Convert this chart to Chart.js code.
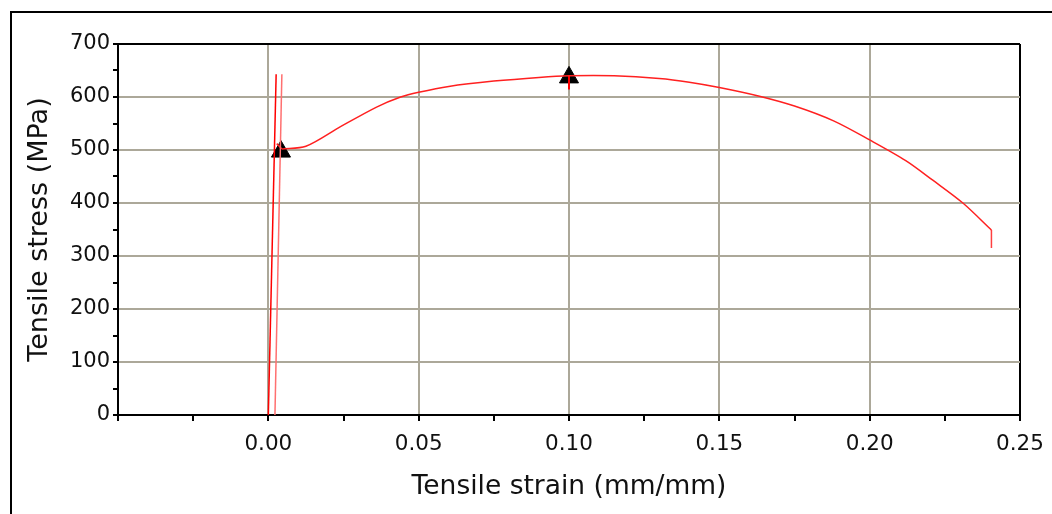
<!DOCTYPE html>
<html>
<head>
<meta charset="utf-8">
<title>Tensile test</title>
<script src="https://cdn.jsdelivr.net/npm/chart.js@4/dist/chart.umd.min.js"></script>
<style>
  html, body { margin: 0; padding: 0; background: #fff; }
  body { width: 1052px; height: 514px; position: relative; overflow: hidden; }
  #frame {
    position: absolute; left: 10px; top: 11px;
    width: 1100px; height: 600px;
    border: 2px solid #000;
  }
  #chart { position: absolute; left: 0; top: 0; }
</style>
</head>
<body>
<div id="frame"></div>
<canvas id="chart" width="1052" height="514"></canvas>
<script>
// Axis range and tick steps
const xMin = -0.05;
const xMax = 0.25;
const xStep = 0.025;
const yMin = 0;
const yMax = 700;
const yStep = 50;

// Elastic loading lines (two passes)
const elasticAStrain = [0, 0.0026];
const elasticAStress = [0, 643];
const elasticBStrain = [0.0022, 0.0045];
const elasticBStress = [0, 643];

// Little hook where the curve leaves the elastic line
const hookStrain = [0.0028, 0.0045];
const hookStress = [512, 502];

// Main stress-strain curve
const curveStrain = [0.0045, 0.0125, 0.024, 0.036, 0.044, 0.05, 0.06, 0.075, 0.09, 0.1,
  0.115, 0.13, 0.14, 0.15, 0.163, 0.175, 0.188, 0.2, 0.212, 0.221, 0.231, 0.2405];
const curveStress = [502, 507, 544, 581, 600, 609, 620, 630, 637, 640,
  640, 635, 628, 618, 602, 583, 555, 519, 480, 443, 400, 349];

// Fracture drop at the end
const fractureStrain = [0.2405, 0.2405];
const fractureStress = [349, 315];

// Small drop under the ultimate point
const dropStrain = [0.1, 0.1];
const dropStress = [640, 614];

// Markers: yield and ultimate strength
const markerStrain = [0.0042, 0.1];
const markerStress = [497, 637];

function toPoints(xs, ys) {
  return xs.map((x, i) => ({ x: x, y: ys[i] }));
}

function lineSet(xs, ys, color, width, tension) {
  return {
    data: toPoints(xs, ys),
    showLine: true,
    borderColor: color,
    borderWidth: width,
    pointRadius: 0,
    tension: tension || 0,
  };
}

// value helpers (ticks come in as floats)
function isMultiple(value, step) {
  const r = value / step;
  return Math.abs(r - Math.round(r)) < 1e-6;
}

function xGridColor(ctx) {
  const v = ctx.tick.value;
  if (Math.abs(v - xMax) < 1e-6) return "#000";
  if (v < -1e-6) return "rgba(0,0,0,0)";
  return isMultiple(v, 0.05) ? "#aca899" : "rgba(0,0,0,0)";
}

function yGridColor(ctx) {
  const v = ctx.tick.value;
  if (Math.abs(v - yMax) < 1e-6) return "#000";
  if (v < 1) return "rgba(0,0,0,0)";
  return isMultiple(v, 100) ? "#aca899" : "rgba(0,0,0,0)";
}

const ctx = document.getElementById("chart").getContext("2d");

new Chart(ctx, {
  type: "scatter",
  data: {
    datasets: [
      lineSet(elasticBStrain, elasticBStress, "#ff7070", 1.5),
      lineSet(elasticAStrain, elasticAStress, "#ff0000", 1.5),
      lineSet(hookStrain, hookStress, "#ff2020", 1.5),
      lineSet(curveStrain, curveStress, "#ff2020", 1.5, 0.3),
      lineSet(fractureStrain, fractureStress, "#ff4040", 1.5),
      lineSet(dropStrain, dropStress, "#ff0000", 2),
      {
        data: toPoints(markerStrain, markerStress),
        showLine: false,
        pointStyle: "triangle",
        pointRadius: 11,
        backgroundColor: "#000",
        borderColor: "#000",
        borderWidth: 1,
      },
    ],
  },
  options: {
    responsive: false,
    animation: false,
    devicePixelRatio: 1,
    layout: { padding: { top: 44, right: 32, left: 0, bottom: 0 } },
    plugins: {
      legend: { display: false },
      tooltip: { enabled: false },
    },
    scales: {
      x: {
        type: "linear",
        min: xMin,
        max: xMax,
        afterFit: function (scale) {
          scale.height = 99;
          scale.paddingLeft = 0;
          scale.paddingRight = 0;
        },
        ticks: {
          stepSize: xStep,
          autoSkip: false,
          maxRotation: 0,
          color: "#111",
          font: { family: "DejaVu Sans", size: 21.5 },
          padding: 11,
          callback: function (value) {
            if (value < -1e-6 || !isMultiple(value, 0.05)) return "";
            return Math.abs(Math.round(value * 100) / 100).toFixed(2);
          },
        },
        grid: {
          color: xGridColor,
          lineWidth: 2,
          tickColor: "#000",
          tickLength: 6,
        },
        border: { color: "#000", width: 2 },
        title: {
          display: true,
          text: "Tensile strain (mm/mm)",
          color: "#111",
          font: { family: "DejaVu Sans", size: 26.5 },
          padding: { top: 0, bottom: 11 },
        },
      },
      y: {
        type: "linear",
        min: yMin,
        max: yMax,
        afterFit: function (scale) {
          scale.width = 118;
        },
        ticks: {
          stepSize: yStep,
          autoSkip: false,
          color: "#111",
          font: { family: "DejaVu Sans", size: 21 },
          padding: 3,
          callback: function (value) {
            return isMultiple(value, 100) ? String(value) : "";
          },
        },
        grid: {
          color: yGridColor,
          lineWidth: 2,
          tickColor: "#000",
          tickLength: 5,
        },
        border: { color: "#000", width: 2 },
        title: {
          display: true,
          text: "Tensile stress (MPa)",
          color: "#111",
          font: { family: "DejaVu Sans", size: 27 },
          padding: { top: 24, bottom: 0 },
        },
      },
    },
  },
});
</script>
</body>
</html>
